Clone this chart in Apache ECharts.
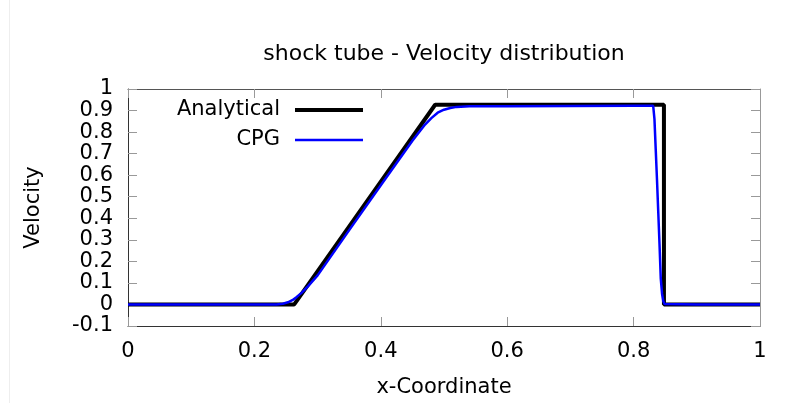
<!DOCTYPE html>
<html>
<head>
<meta charset="utf-8">
<script src="https://cdn.jsdelivr.net/npm/echarts@6/dist/echarts.min.js"></script>
<style>
  html, body { margin: 0; padding: 0; background: #fff; }
  #main { width: 787px; height: 403px; }
</style>
</head>
<body>
<div id="main"></div>
<script>
'use strict';
// analytical solution, corner points
var analyticalX = [0, 0.263, 0.486, 0.848, 0.848, 1.0];
var analyticalY = [0, 0, 0.927, 0.927, 0, 0];
// CPG result
var cpgX = [0, 0.1, 0.2, 0.235, 0.245, 0.253, 0.26, 0.267, 0.275, 0.285, 0.3, 0.35, 0.4, 0.45,
            0.47, 0.48, 0.49, 0.5, 0.51, 0.52, 0.54, 0.6, 0.7, 0.8, 0.831, 0.833, 0.835,
            0.837, 0.839, 0.841, 0.843, 0.845, 0.847, 0.849, 0.9, 1.0];
var cpgY = [0, 0, 0, 0, 0.003, 0.01, 0.02, 0.035, 0.055, 0.085, 0.135, 0.345, 0.553, 0.76,
            0.835, 0.865, 0.89, 0.904, 0.912, 0.917, 0.92, 0.92, 0.921, 0.922, 0.922, 0.86, 0.72,
            0.58, 0.43, 0.28, 0.12, 0.05, 0.015, 0.002, 0, 0];
var xTicks = [0, 0.2, 0.4, 0.6, 0.8, 1];
var yTicks = [-0.1, 0, 0.1, 0.2, 0.3, 0.4, 0.5, 0.6, 0.7, 0.8, 0.9, 1];

function pairs(xs, ys) {
    return xs.map(function(x, i) { return [x, ys[i]]; });
}
function fmt(v) { return String(+v.toFixed(1)); }

var font = 'DejaVu Sans';
var fs = 21;
var ink = '#000';
var chart = echarts.init(document.getElementById('main'));

var tick = { show: true, inside: true, length: 9, lineStyle: { color: '#999', width: 1 } };

// legend icons: a bar of given thickness in a 68x22 box (move-to sets the box)
var iconBlack = 'path://M0,0M68,22M0,9H68V13H0Z';
var iconBlue = 'path://M0,0M68,22M0,9.75H68V12.25H0Z';

var option = {
    animation: false,
    backgroundColor: '#fff',
    title: {
        text: 'shock tube - Velocity distribution',
        left: 439,
        textAlign: 'center',
        top: 38,
        textStyle: { fontFamily: font, fontSize: 22, fontWeight: 'normal', color: ink }
    },
    legend: {
        orient: 'vertical',
        align: 'right',
        right: 419,
        top: 94,
        itemGap: 8,
        itemWidth: 68,
        itemHeight: 22,
        textStyle: { fontFamily: font, fontSize: fs, color: ink, padding: [0, 10, 0, 0] },
        data: [{ name: 'Analytical', icon: iconBlack }, { name: 'CPG', icon: iconBlue }]
    },
    grid: { left: 128, right: 27, top: 89, bottom: 77 },
    xAxis: [{
        type: 'value',
        min: 0, max: 1, interval: 0.2,
        name: 'x-Coordinate',
        nameLocation: 'middle',
        nameGap: 51,
        nameTextStyle: { fontFamily: font, fontSize: fs, color: ink },
        axisLine: { show: true, onZero: false, lineStyle: { color: '#333', width: 1 } },
        axisTick: tick,
        axisLabel: { fontFamily: font, fontSize: fs, color: ink, margin: 15, formatter: fmt,
            showMinLabel: true, showMaxLabel: true },
        splitLine: { show: false }
    }, {
        type: 'value',
        position: 'top',
        min: 0, max: 1, interval: 0.2,
        axisLine: { show: true, onZero: false, lineStyle: { color: '#555', width: 1 } },
        axisTick: tick,
        axisLabel: { show: false },
        splitLine: { show: false }
    }],
    yAxis: [{
        type: 'value',
        min: -0.1, max: 1, interval: 0.1,
        name: 'Velocity',
        nameLocation: 'middle',
        nameGap: 84,
        nameTextStyle: { fontFamily: font, fontSize: fs, color: ink },
        axisLine: { show: true, onZero: false, lineStyle: { color: '#333', width: 1 } },
        axisTick: tick,
        axisLabel: { fontFamily: font, fontSize: fs, color: ink, margin: 15,
            formatter: fmt, showMinLabel: true, showMaxLabel: true },
        splitLine: { show: false }
    }, {
        type: 'value',
        position: 'right',
        min: -0.1, max: 1, interval: 0.1,
        axisLine: { show: true, onZero: false, lineStyle: { color: '#999', width: 1 } },
        axisTick: tick,
        axisLabel: { show: false },
        splitLine: { show: false }
    }],
    series: [{
        name: 'Analytical',
        type: 'line',
        data: pairs(analyticalX, analyticalY),
        symbol: 'none',
        color: '#000',
        lineStyle: { color: '#000', width: 4 },
        z: 2
    }, {
        name: 'CPG',
        type: 'line',
        data: pairs(cpgX, cpgY),
        symbol: 'none',
        color: '#0000ff',
        lineStyle: { color: '#0000ff', width: 2.5 },
        z: 3
    }],
    graphic: [{
        type: 'line',
        shape: { x1: 9.5, y1: 0, x2: 9.5, y2: 403 },
        style: { stroke: '#eee', lineWidth: 1 }
    }]
};
chart.setOption(option);
</script>
</body>
</html>
